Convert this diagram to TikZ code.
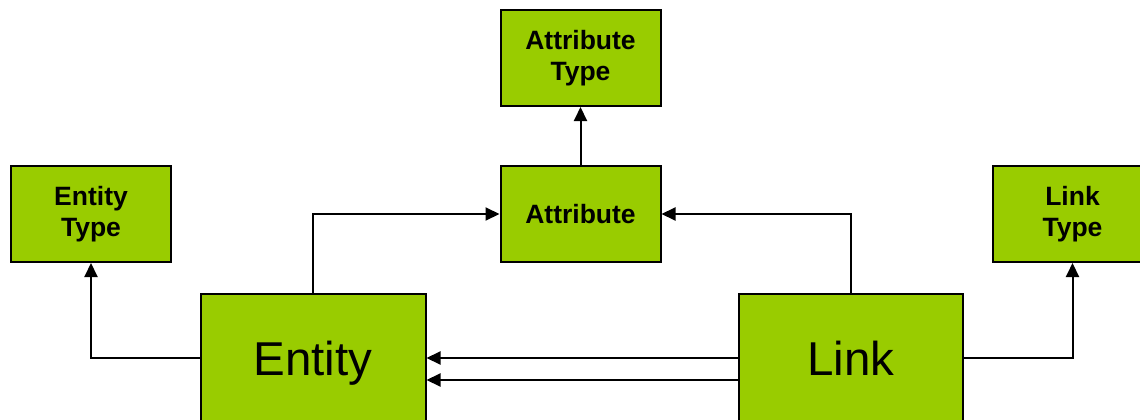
\documentclass[tikz,border=0pt]{standalone}
\usepackage{fontspec}
\setmainfont{Liberation Sans}
\usetikzlibrary{arrows.meta}
\definecolor{boxgreen}{HTML}{99CC00}
\tikzset{
  box/.style={draw=black, fill=boxgreen, line width=2pt, inner sep=0pt, align=center},
  smallbox/.style={box, minimum width=160pt, minimum height=96pt,
    font=\bfseries\fontsize{26.5}{31}\selectfont},
  bigbox/.style={box, minimum width=225pt, minimum height=128pt,
    text height=34pt, text depth=0pt,
    font=\fontsize{47.5}{52}\selectfont},
  conn/.style={line width=2pt, -{Triangle[length=14pt,width=13pt]}}
}
\begin{document}
\begin{tikzpicture}[x=1pt,y=-1pt]
  \useasboundingbox (0,0) rectangle (1140,420);
  \clip (0,0) rectangle (1140,420);
  % entity-type boxes
  \node[smallbox] (etype) at (91,214) {Entity\\Type};
  \node[smallbox] (atype) at (580.5,58) {Attribute\\Type};
  \node[smallbox] (attr)  at (580.5,214) {Attribute};
  \node[smallbox] (ltype) at (1072.5,214) {Link\\Type};
  \node[bigbox]   (ent)   at (313,358) {Entity};
  \node[bigbox, minimum width=224pt] (lnk) at (851,358) {Link};
  % relations
  \draw[conn] (ent.west) -| (etype.south);
  \draw[conn] (ent.north) |- (attr.west);
  \draw[conn] (lnk.north) |- (attr.east);
  \draw[conn] (attr.north) -- (atype.south);
  \draw[conn] (lnk.east) -| (ltype.south);
  \draw[conn] (lnk.west) -- (ent.east);
  \draw[conn] ([yshift=-22pt]lnk.west) -- ([yshift=-22pt]ent.east);
\end{tikzpicture}
\end{document}
